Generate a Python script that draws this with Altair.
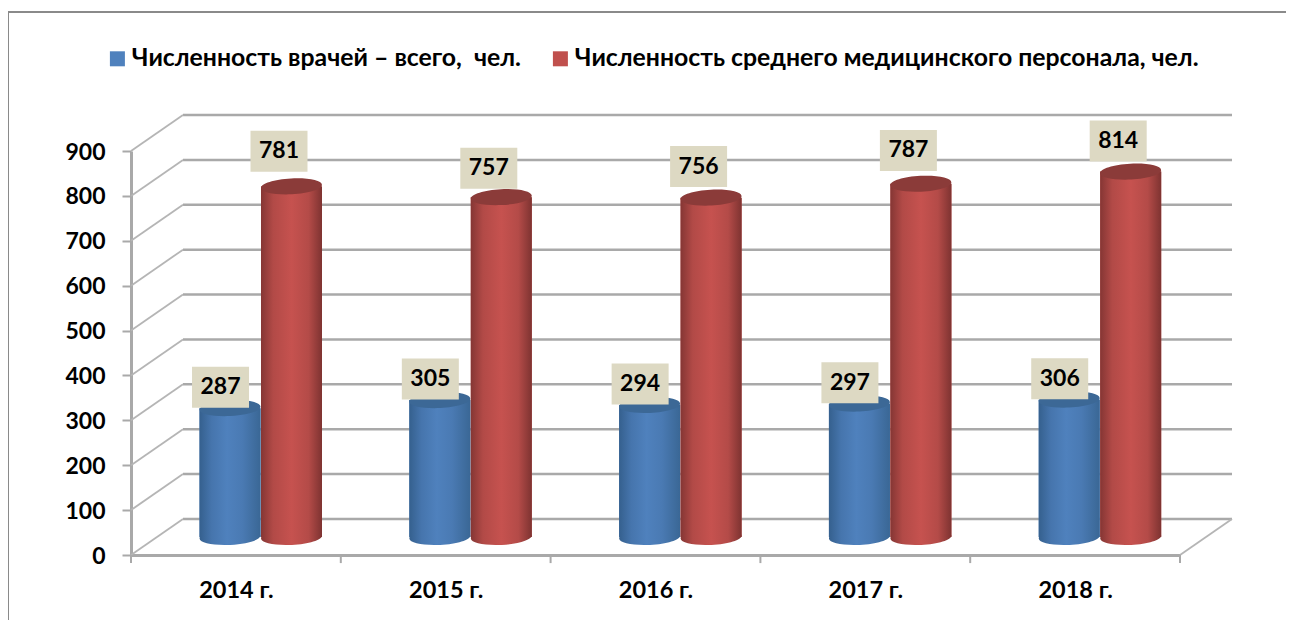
import altair as alt
import pandas as pd

# ---- values ----
years = ["2014 г.", "2015 г.", "2016 г.", "2017 г.", "2018 г."]
doctors = [287, 305, 294, 297, 306]
nurses = [781, 757, 756, 787, 814]
series_names = ["Численность врачей – всего,\u00a0 чел.",
                "Численность среднего медицинского персонала, чел."]
y_ticks = list(range(0, 901, 100))
# small hand-placement of the value labels in the source chart (value units)
nurse_label_nudge = [7, -7, -2, 3, -3]

FONT = "Lato"
GRID = "#a9a9a9"
PX_PER_SLOT = 209.8
PX_PER_UNIT = 404 / 900
DEPTH_X = 52 / PX_PER_SLOT      # wall depth in slot units
DEPTH_Y = 36 / PX_PER_UNIT      # wall depth in value units
HALF = 30.5 / PX_PER_SLOT

x_scale = alt.Scale(domain=[0, 5], nice=False, zero=False)
y_scale = alt.Scale(domain=[0, 900], nice=False, zero=False)

rows = []
for i, yr in enumerate(years):
    for s, (name, val) in enumerate(zip(series_names, (doctors[i], nurses[i]))):
        centre = i + (0.472 if s == 0 else 0.765)
        lift = DEPTH_Y / 2
        if s == 0:
            lx, ly = centre - 9.5 / PX_PER_SLOT, val + lift + 21 / PX_PER_UNIT
        else:
            lx, ly = centre - 12.5 / PX_PER_SLOT, val + lift + (32 / PX_PER_UNIT) + nurse_label_nudge[i]
        rows.append(dict(series=name, idx=s, value=val, c=centre, x0=centre - HALF, x1=centre + HALF,
                         base=lift, top=val + lift, lx=lx, ly=ly))
bars = pd.DataFrame(rows)

grid = pd.DataFrame([dict(x=DEPTH_X, x2=5 + DEPTH_X, y=v + DEPTH_Y) for v in y_ticks])
diag = pd.DataFrame([dict(x=0, x2=DEPTH_X, y=v, y2=v + DEPTH_Y) for v in y_ticks]
                    + [dict(x=5, x2=5 + DEPTH_X, y=0, y2=DEPTH_Y)])
slot_ticks = pd.DataFrame(dict(x=list(range(6)), y=[0] * 6, y2=[-18] * 6))
frame = pd.DataFrame(dict(a=[0]))

ELLIPSE = "M-1,0A1,0.26,0,1,1,1,0A1,0.26,0,1,1,-1,0Z"
SIZE = 61 ** 2


def grad(stops):
    return {"gradient": "linear", "x1": 0, "x2": 1, "y1": 0, "y2": 0,
            "stops": [{"offset": o, "color": c} for o, c in stops]}


GRADS = [
    grad([(0, "#35608e"), (0.2, "#4675ad"), (0.45, "#4f81bd"), (0.7, "#4a7ab3"), (1, "#3a6795")]),
    grad([(0, "#853634"), (0.2, "#b24a47"), (0.5, "#c6524f"), (0.78, "#b44b48"), (1, "#7e3331")]),
]
TOPS = ["#3c6896", "#8b3b39"]

x_axis = alt.Axis(values=[0.5, 1.5, 2.5, 3.5, 4.5], title=None, grid=False, ticks=False,
                  domainColor=GRID, domainWidth=3,
                  labelExpr="[" + ",".join(f"'{y}'" for y in years) + "][floor(datum.value)]",
                  labelFont=FONT, labelFontWeight="bold", labelFontSize=23.5, labelColor="black",
                  labelPadding=23, labelAngle=0)
y_axis = alt.Axis(values=y_ticks, title=None, grid=False, domainColor=GRID, domainWidth=3,
                  tickColor=GRID, tickWidth=2, tickSize=9,
                  labelFont=FONT, labelFontWeight="bold", labelFontSize=23, labelColor="black",
                  labelPadding=17, labelOffset=1)
XN = lambda f: alt.X(f, scale=x_scale, axis=x_axis)
YN = lambda f: alt.Y(f, scale=y_scale, axis=y_axis)

grid_layer = alt.Chart(grid).mark_rule(color=GRID, strokeWidth=2.5).encode(x=XN("x:Q"), x2="x2:Q", y=YN("y:Q"))
diag_layer = alt.Chart(diag).mark_rule(color="#b5b5b5", strokeWidth=1.8).encode(
    x=XN("x:Q"), x2="x2:Q", y=YN("y:Q"), y2="y2:Q")
tick_layer = alt.Chart(slot_ticks).mark_rule(color=GRID, strokeWidth=2).encode(
    x=XN("x:Q"), y=YN("y:Q"), y2="y2:Q")
border_top = alt.Chart(frame).mark_rule(color="#8a8a8a", strokeWidth=2).encode(
    x=alt.value(-123), x2=alt.value(1170), y=alt.value(-139))
border_left = alt.Chart(frame).mark_rule(color="#8a8a8a", strokeWidth=2).encode(
    x=alt.value(-123), y=alt.value(-140), y2=alt.value(480))

flat = alt.Chart(bars).mark_rect().encode(
    x=XN("x0:Q"), x2="x1:Q", y=YN("base:Q"), y2="top:Q",
    color=alt.Color("series:N", scale=alt.Scale(domain=series_names, range=["#4f81bd", "#c0504d"]),
                    legend=alt.Legend(title=None, orient="none", legendX=-26, legendY=-105,
                                      direction="horizontal", symbolType="square", symbolSize=225,
                                      symbolStrokeWidth=0, labelFont=FONT, labelFontWeight="bold",
                                      labelFontSize=24.8, labelColor="black", labelLimit=800,
                                      columnPadding=27, labelOffset=2)))

layers = [border_top, border_left, grid_layer, diag_layer, tick_layer]
for s in (0, 1):
    d = bars[bars.idx == s]
    layers.append(alt.Chart(d).mark_point(shape=ELLIPSE, size=SIZE, filled=True, fill=GRADS[s], opacity=1,
                                          strokeWidth=0, angle=357).encode(x=XN("c:Q"), y=YN("base:Q")))
layers.append(flat)
for s in (0, 1):
    d = bars[bars.idx == s]
    layers.append(alt.Chart(d).mark_rect(fill=GRADS[s]).encode(
        x=XN("x0:Q"), x2="x1:Q", y=YN("base:Q"), y2="top:Q"))
    layers.append(alt.Chart(d).mark_point(shape=ELLIPSE, size=SIZE, filled=True, fill=TOPS[s], opacity=1,
                                          strokeWidth=0, angle=357).encode(x=XN("c:Q"), y=YN("top:Q")))
layers.append(alt.Chart(bars).mark_rect(width=57, height=41, fill="#ddd9c3").encode(
    x=XN("lx:Q"), y=YN("ly:Q")))
layers.append(alt.Chart(bars).mark_text(font=FONT, fontWeight="bold", fontSize=23, color="black",
                                        align="center", baseline="middle").encode(
    x=XN("lx:Q"), y=YN("ly:Q"), text="value:Q"))

chart = alt.layer(*layers).properties(
    width=1049, height=404,
    padding={"left": 123, "top": 143, "right": 106, "bottom": 65},
    autosize=alt.AutoSizeParams(type="none"),
    background="white",
).configure_view(stroke=None)

chart.save("out.html", embed_options={"renderer": "svg", "actions": False})
